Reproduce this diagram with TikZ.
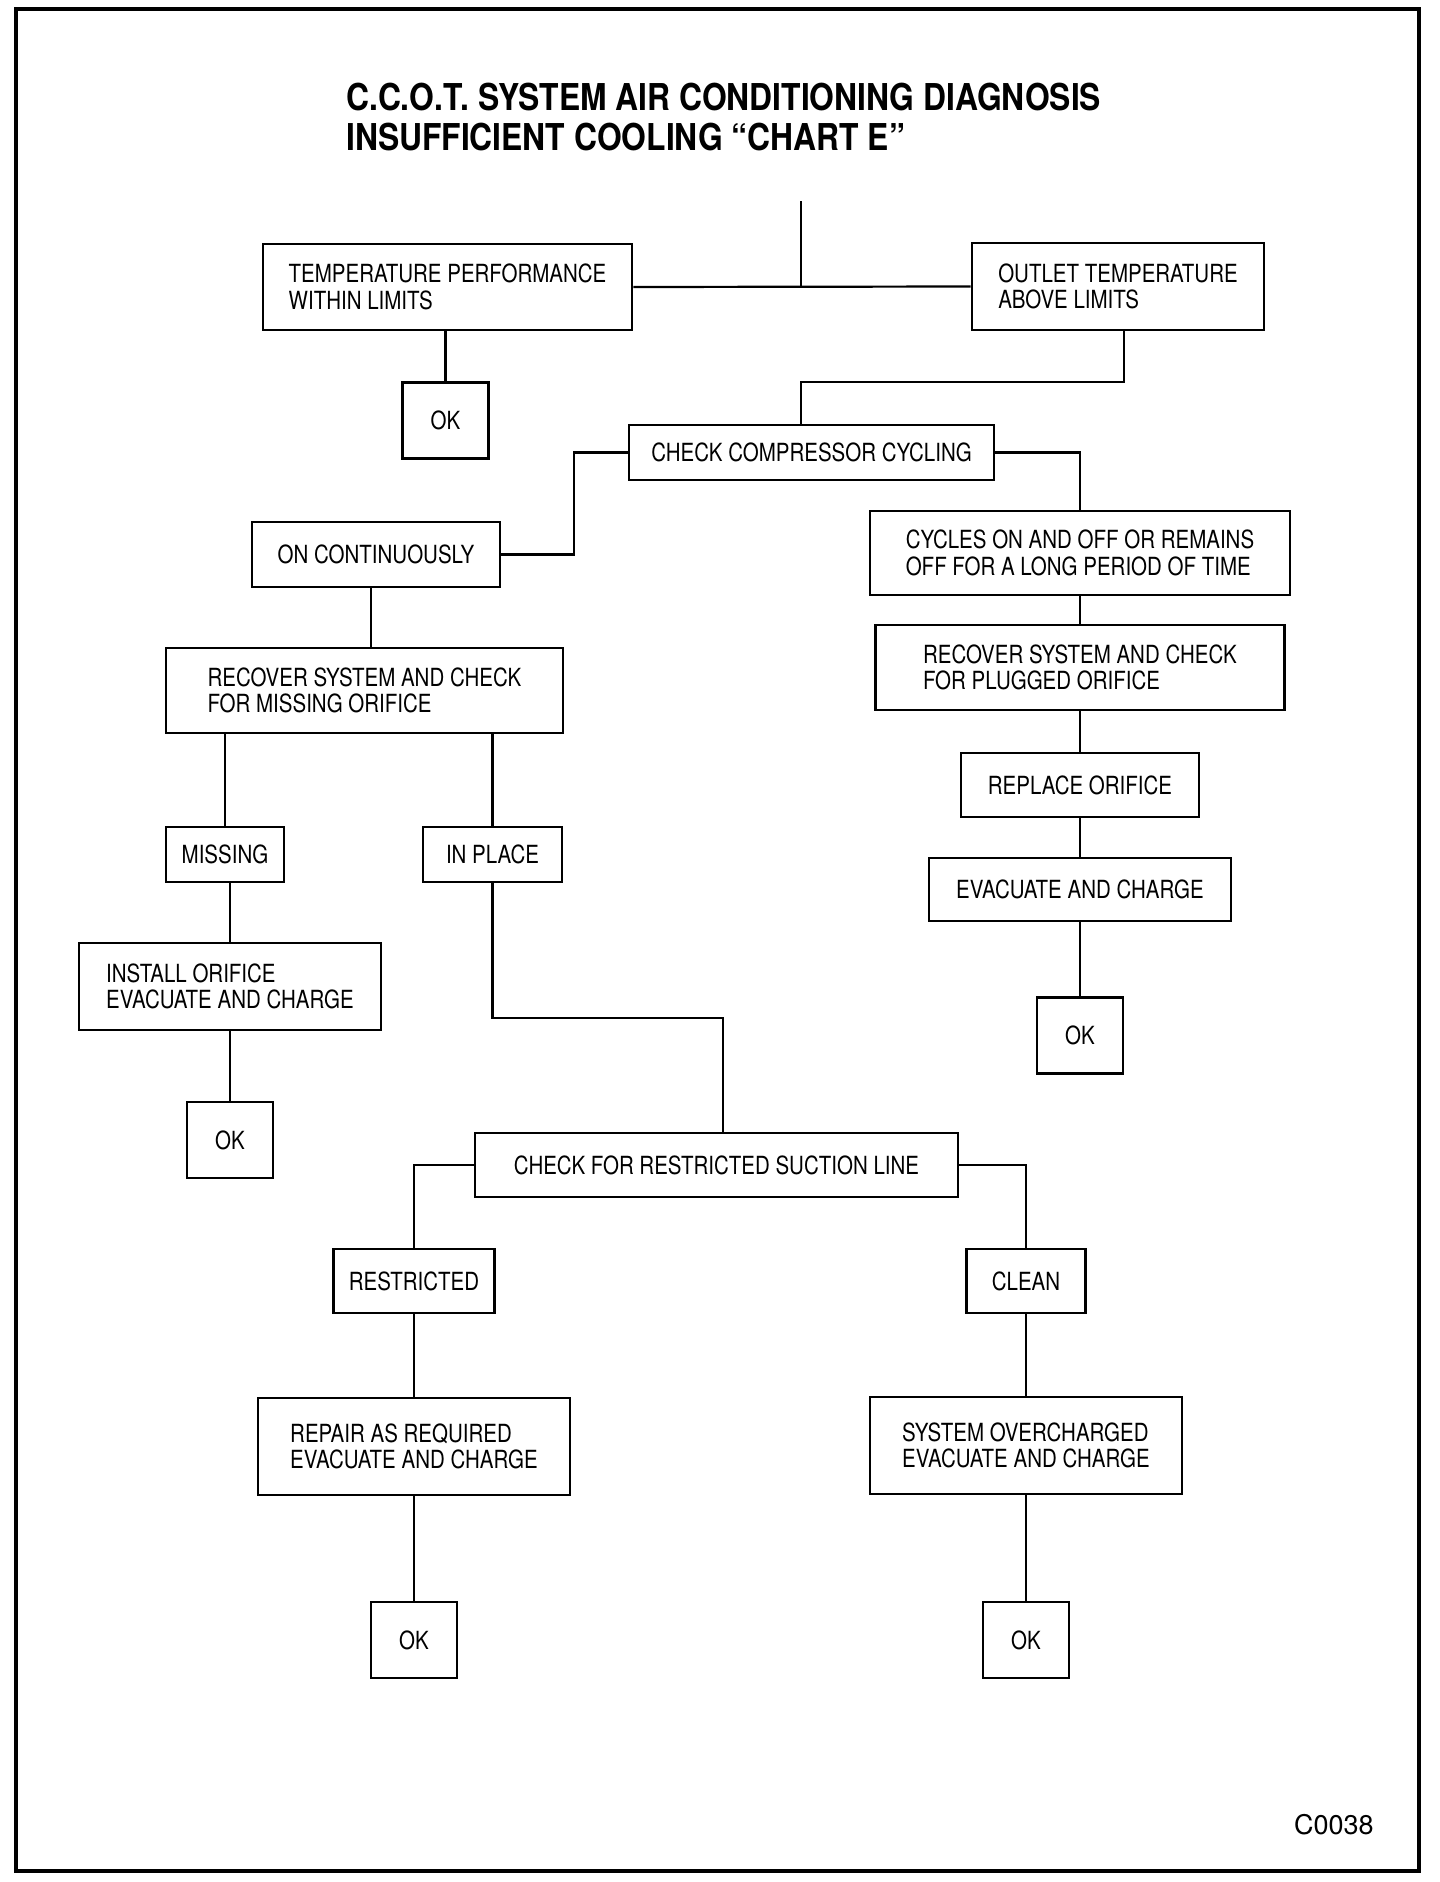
\documentclass[tikz,border=0pt]{standalone}
\usepackage{fontspec}
\setmainfont{TeX Gyre Heros}[FakeStretch=0.82]
\newfontfamily\titlefont{TeX Gyre Heros}[FakeStretch=0.86]
\newfontfamily\codefont{TeX Gyre Heros}

\begin{document}
\begin{tikzpicture}[x=1pt,y=-1pt,
    box/.style 2 args={draw, line width=2.6pt, minimum width=#1, minimum height=#2,
        align=left, inner sep=2pt, font=\fontsize{25}{26.5}\selectfont},
    okbox/.style={box={86}{76}},
    link/.style={line width=2.2pt},
    heading/.style={anchor=base west, inner sep=0pt, font=\titlefont\fontsize{37}{40}\selectfont\bfseries}]

                \useasboundingbox (0,0) rectangle (1440,1882);
                % frame
                \draw[line width=4pt] (16,9) rectangle (1419,1871);

                % title
                \node[heading] (title1) at (346,110) {C.C.O.T. SYSTEM AIR CONDITIONING DIAGNOSIS};
                \node[heading] (title2) at (346,150) {INSUFFICIENT COOLING “CHART E”};

                % top level
                \node[box={369}{86}] (temp) at (447.5,287) {TEMPERATURE PERFORMANCE\\WITHIN LIMITS};
                \node[box={292}{87}] (outlet) at (1118,286.5) {OUTLET TEMPERATURE\\ABOVE LIMITS};
                \node[okbox] (ok1) at (445.5,420.5) {OK};
                \node[box={365}{55}] (check) at (811.5,452.5) {CHECK COMPRESSOR CYCLING};

                % left branch
                \node[box={248}{65}] (oncont) at (376,554.5) {ON CONTINUOUSLY};
                \node[box={397}{85}] (recmiss) at (364.5,690.5) {RECOVER SYSTEM AND CHECK\\FOR MISSING ORIFICE};
                \node[box={118}{55}] (missing) at (225,854.5) {MISSING};
                \node[box={139}{55}] (inplace) at (492.5,854.5) {IN PLACE};
                \node[box={302}{87}] (install) at (230,986.5) {INSTALL ORIFICE\\EVACUATE AND CHARGE};
                \node[okbox] (ok2) at (230,1140) {OK};

                % right branch
                \node[box={420}{84}] (cycles) at (1080,553) {CYCLES ON AND OFF OR REMAINS\\OFF FOR A LONG PERIOD OF TIME};
                \node[box={409}{85}] (recplug) at (1080,667.5) {RECOVER SYSTEM AND CHECK\\FOR PLUGGED ORIFICE};
                \node[box={238}{64}] (replace) at (1080,785) {REPLACE ORIFICE};
                \node[box={302}{63}] (evac) at (1080,889.5) {EVACUATE AND CHARGE};
                \node[okbox] (ok3) at (1080,1035.5) {OK};

                % suction line
                \node[box={483}{64}] (suction) at (716.5,1165) {CHECK FOR RESTRICTED SUCTION LINE};
                \node[box={161}{64}] (restricted) at (414,1281) {RESTRICTED};
                \node[box={312}{97}] (repair) at (414,1446.5) {REPAIR AS REQUIRED\\EVACUATE AND CHARGE};
                \node[okbox] (ok4) at (414,1640) {OK};
                \node[box={119}{64}] (clean) at (1026,1281) {CLEAN};
                \node[box={312}{97}] (system) at (1026,1445.5) {SYSTEM OVERCHARGED\\EVACUATE AND CHARGE};
                \node[okbox] (ok5) at (1026,1640) {OK};

                \node[anchor=base west, inner sep=0pt, font=\codefont\fontsize{27}{30}\selectfont] (code) at (1294,1834) {C0038};

                % connectors
                \coordinate (entry) at (801,201);
                \coordinate (bendA) at (801,382);
                \coordinate (bendB) at (723,1018);
                \draw[link] (entry) -- (entry |- temp.east);
                \draw[link] (temp.east) -- (outlet.west);
                \draw[link] (ok1.north) -- (ok1.north |- temp.south);
                \draw[link] ([xshift=6pt]outlet.south) |- (bendA) -- (bendA |- check.north);
                \draw[link] (check.west) -- ++(-54,0) |- (oncont.east);
                \draw[link] (check.east) -| (cycles.north);
                \draw[link] ([xshift=-5pt]oncont.south) -- ([xshift=-5pt]oncont.south |- recmiss.north);
                \draw[link] (missing.north) -- (missing.north |- recmiss.south);
                \draw[link] (inplace.north) -- (inplace.north |- recmiss.south);
                \draw[link] (install.north) -- (install.north |- missing.south);
                \draw[link] (inplace.south) |- (bendB) -- (bendB |- suction.north);
                \draw[link] (suction.west) -| (restricted.north);
                \draw[link] (suction.east) -| (clean.north);
                \foreach \a/\b in {install/ok2, cycles/recplug, recplug/replace, replace/evac, evac/ok3,
                                   restricted/repair, repair/ok4, clean/system, system/ok5}
                  \draw[link] (\a) -- (\b);

\end{tikzpicture}
\end{document}
